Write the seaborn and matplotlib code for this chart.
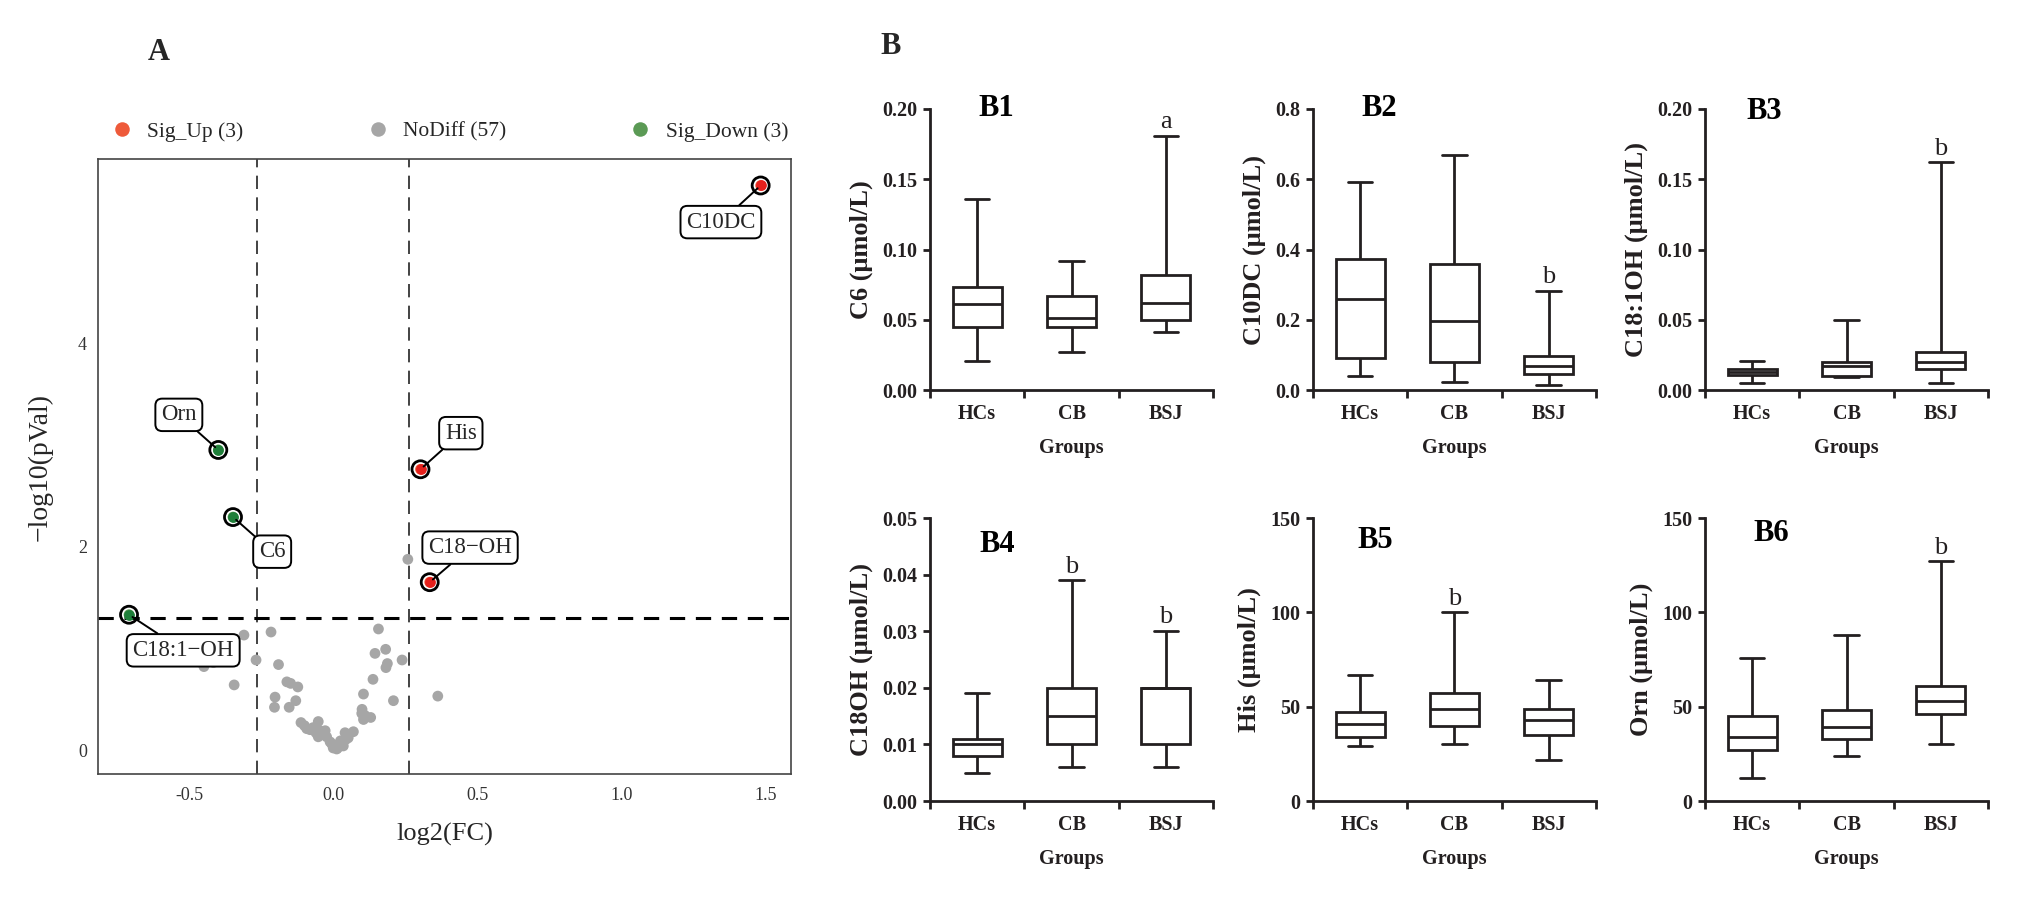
import numpy as np
import pandas as pd
import matplotlib
matplotlib.use('Agg')
import matplotlib.pyplot as plt
import seaborn as sns
from matplotlib.ticker import FormatStrFormatter

sns.set_style('white')
plt.rcParams['font.family'] = ['Liberation Serif', 'DejaVu Serif']

# ---- A: volcano plot data (log2 fold change, -log10 p) ----
nodiff_fc = [0.259, -0.31, -0.216, 0.157, 0.182, 0.145, 0.239, 0.188, 0.183, -0.268,
             -0.19, -0.449, -0.416, -0.344, -0.161, -0.148, -0.123, 0.138, 0.363, 0.105,
             -0.202, -0.13, -0.204, -0.153, 0.209, 0.10, 0.105, 0.13, 0.07, -0.112,
             -0.052, -0.081, -0.063, -0.046, -0.028, -0.052, -0.011, 0.006, 0.018, 0.03,
             0.044, 0.041, -0.023, -0.092, 0.099, 0.0, 0.012, -0.07, -0.035, -0.005,
             0.025, 0.052, -0.06, 0.035, 0.11, -0.10, 0.015]
nodiff_p = [1.875, 1.13, 1.16, 1.19, 0.99, 0.95, 0.885, 0.85, 0.81, 0.885,
            0.84, 0.82, 0.86, 0.64, 0.67, 0.655, 0.62, 0.695, 0.53, 0.55,
            0.52, 0.485, 0.42, 0.42, 0.485, 0.40, 0.30, 0.32, 0.18, 0.27,
            0.28, 0.20, 0.21, 0.19, 0.19, 0.13, 0.08, 0.03, 0.05, 0.07,
            0.105, 0.17, 0.13, 0.21, 0.36, 0.02, 0.01, 0.22, 0.16, 0.06,
            0.09, 0.12, 0.17, 0.04, 0.34, 0.24, 0.02]
up_names = ['C10DC', 'His', 'C18\u2212OH']
up_fc = [1.484, 0.303, 0.335]
up_p = [5.55, 2.76, 1.65]
down_names = ['Orn', 'C6', 'C18:1\u2212OH']
down_fc = [-0.399, -0.348, -0.709]
down_p = [2.95, 2.29, 1.33]

fc_cut = np.log2(1.2)
p_cut = -np.log10(0.05)

# ---- B: box plot five-number summaries (min, Q1, median, Q3, max) ----
groups = ['HCs', 'CB', 'BSJ']
c6 = [[0.021, 0.045, 0.061, 0.073, 0.136], [0.027, 0.045, 0.051, 0.067, 0.092], [0.041, 0.050, 0.062, 0.082, 0.181]]
c10dc = [[0.040, 0.090, 0.258, 0.373, 0.592], [0.023, 0.080, 0.196, 0.358, 0.668], [0.015, 0.045, 0.068, 0.097, 0.282]]
c181oh = [[0.005, 0.011, 0.013, 0.015, 0.021], [0.009, 0.010, 0.017, 0.020, 0.050], [0.005, 0.015, 0.020, 0.027, 0.162]]
c18oh = [[0.005, 0.008, 0.010, 0.011, 0.019], [0.006, 0.010, 0.015, 0.020, 0.039], [0.006, 0.010, 0.020, 0.020, 0.030]]
his = [[29, 34, 41, 47, 67], [30, 40, 49, 57, 100], [22, 35, 43, 49, 64]]
orn = [[12, 27, 34, 45, 76], [24, 33, 39, 48, 88], [30, 46, 53, 61, 127]]
letters_b1 = ['', '', 'a']
letters_b2 = ['', '', 'b']
letters_b3 = ['', '', 'b']
letters_b4 = ['', 'b', 'b']
letters_b5 = ['', 'b', '']
letters_b6 = ['', '', 'b']

INK = '#231f20'

fig = plt.figure(figsize=(20.4, 8.97), dpi=100)

# ================= Panel A =================
axA = fig.add_axes([0.048, 0.1371, 0.3397, 0.6856])
lab_up = f'Sig_Up ({len(up_fc)})'
lab_no = f'NoDiff ({len(nodiff_fc)})'
lab_down = f'Sig_Down ({len(down_fc)})'
vol = pd.DataFrame({
    'log2FC': nodiff_fc + up_fc + down_fc,
    'neglogp': nodiff_p + up_p + down_p,
    'group': [lab_no] * len(nodiff_fc) + [lab_up] * len(up_fc) + [lab_down] * len(down_fc),
})
sns.scatterplot(data=vol, x='log2FC', y='neglogp', hue='group',
                hue_order=[lab_up, lab_no, lab_down],
                palette=['#EE5A3A', '#A6A6A6', '#5B9A55'],
                s=60, linewidth=0, ax=axA)
handles, labels = axA.get_legend_handles_labels()

sig = vol[vol['group'] != lab_no]
sns.scatterplot(data=sig, x='log2FC', y='neglogp', s=150, facecolor='none',
                edgecolor='black', linewidth=2.0, legend=False, ax=axA)
sns.scatterplot(data=vol[vol['group'] == lab_up], x='log2FC', y='neglogp', color='#E5201C',
                s=60, linewidth=0, legend=False, ax=axA)
sns.scatterplot(data=vol[vol['group'] == lab_down], x='log2FC', y='neglogp', color='#1F7F3A',
                s=60, linewidth=0, legend=False, ax=axA)

axA.axvline(-fc_cut, color='#222222', lw=1.2, ls=(0, (8, 5)), zorder=0)
axA.axvline(fc_cut, color='#222222', lw=1.2, ls=(0, (8, 5)), zorder=0)
axA.axhline(p_cut, color='black', lw=2.2, ls=(0, (5, 3.5)), zorder=0)

# label boxes (text positions in data units)
label_pos = {'C10DC': (1.346, 5.19), 'His': (0.443, 3.115), 'C18\u2212OH': (0.475, 1.99),
             'Orn': (-0.536, 3.295), 'C6': (-0.212, 1.95), 'C18:1\u2212OH': (-0.521, 0.98)}
for name, fx, py in zip(up_names + down_names, up_fc + down_fc, up_p + down_p):
    axA.annotate(name, xy=(fx, py), xytext=label_pos[name], textcoords='data',
                 ha='center', va='center', fontsize=16.5,
                 bbox=dict(boxstyle='round,pad=0.25,rounding_size=0.3', fc='white', ec='black', lw=1.4),
                 arrowprops=dict(arrowstyle='-', color='black', lw=1.4, shrinkA=0, shrinkB=3))

axA.set_xlim(-0.817, 1.589)
axA.set_ylim(-0.236, 5.81)
axA.set_xticks([-0.5, 0.0, 0.5, 1.0, 1.5])
axA.set_yticks([0, 2, 4])
axA.xaxis.set_major_formatter(FormatStrFormatter('%.1f'))
axA.tick_params(axis='both', length=0, labelsize=13, labelcolor='#333333')
axA.tick_params(axis='x', pad=9)
axA.tick_params(axis='y', pad=8)
for sp in axA.spines.values():
    sp.set_color('#444444')
    sp.set_linewidth(1.2)
axA.set_xlabel('log2(FC)', fontsize=19, labelpad=14)
axA.set_ylabel('\u2212log10(pVal)', fontsize=20, labelpad=18)
axA.legend(handles, labels, loc='lower left', bbox_to_anchor=(0.0, 1.025, 1.0, 0.06),
           mode='expand', ncol=3, frameon=False, fontsize=15.5, handletextpad=0.2,
           borderaxespad=0, borderpad=0.1, markerscale=1.35)

fig.text(159 / 2040, 1 - 53 / 897, 'A', fontsize=22, weight='bold', ha='center', va='center')
fig.text(891 / 2040, 1 - 47 / 897, 'B', fontsize=22, weight='bold', ha='center', va='center')

# ================= Panels B1-B6 =================
panels = [
    ('B1', 'C6 (\u03bcmol/L)', c6, letters_b1, 0.20, 0.05, '%.2f'),
    ('B2', 'C10DC (\u03bcmol/L)', c10dc, letters_b2, 0.8, 0.2, '%.1f'),
    ('B3', 'C18:1OH (\u03bcmol/L)', c181oh, letters_b3, 0.20, 0.05, '%.2f'),
    ('B4', 'C18OH (\u03bcmol/L)', c18oh, letters_b4, 0.05, 0.01, '%.2f'),
    ('B5', 'His (\u03bcmol/L)', his, letters_b5, 150, 50, '%d'),
    ('B6', 'Orn (\u03bcmol/L)', orn, letters_b6, 150, 50, '%d'),
]
lefts = [0.4559, 0.6436, 0.8358]
rows = [(0.5652, 0.3133), (0.107, 0.3155)]
title_pos = [(0.233, 1.0), (0.233, 1.0), (0.21, 0.99), (0.236, 0.905), (0.22, 0.92), (0.233, 0.947)]

for k, (tag, ylab, stats, letters, ytop, ystep, fmt) in enumerate(panels):
    bottom, height = rows[k // 3]
    ax = fig.add_axes([lefts[k % 3], bottom, 0.1387, height])
    long = pd.DataFrame({
        'group': [g for g in groups for _ in range(5)],
        'value': [v for s in stats for v in s],
    })
    sns.boxplot(data=long, x='group', y='value', order=groups, whis=(0, 100),
                width=0.52, color='white', linecolor=INK, linewidth=2.0, ax=ax)
    for i, (s, let) in enumerate(zip(stats, letters)):
        if let:
            ax.annotate(let, xy=(i, s[-1]), xytext=(0, 2), textcoords='offset points',
                        ha='center', va='bottom', fontsize=19, color=INK)
    ax.set_xlim(-0.5, 2.5)
    ax.set_ylim(0, ytop)
    ax.set_yticks(np.arange(0, ytop + ystep / 2, ystep))
    ax.yaxis.set_major_formatter(FormatStrFormatter(fmt))
    ax.set_xticks([0, 1, 2])
    ax.set_xticklabels(groups)
    ax.set_xticks([-0.5, 0.5, 1.5, 2.5], minor=True)
    sns.despine(ax=ax)
    for sp in ['left', 'bottom']:
        ax.spines[sp].set_linewidth(2.0)
        ax.spines[sp].set_color(INK)
    ax.tick_params(axis='y', direction='out', length=5, width=2.0, color=INK, pad=4,
                   labelsize=14.5, left=True)
    ax.tick_params(axis='x', which='major', length=0, pad=10, labelsize=14.5)
    ax.tick_params(axis='x', which='minor', direction='out', length=6, width=2.0, color=INK, bottom=True)
    for t in ax.get_xticklabels() + ax.get_yticklabels():
        t.set_fontweight('bold')
        t.set_color(INK)
    ax.set_xlabel('Groups', fontsize=14.5, fontweight='bold', labelpad=10, color=INK)
    ax.set_ylabel(ylab, fontsize=19, fontweight='bold', labelpad=7, color=INK)
    tx, ty = title_pos[k]
    ax.text(tx, ty, tag, transform=ax.transAxes, fontsize=22, fontweight='bold',
            ha='center', va='center', color='black')

fig.savefig('out.png', dpi=100, facecolor='white')
